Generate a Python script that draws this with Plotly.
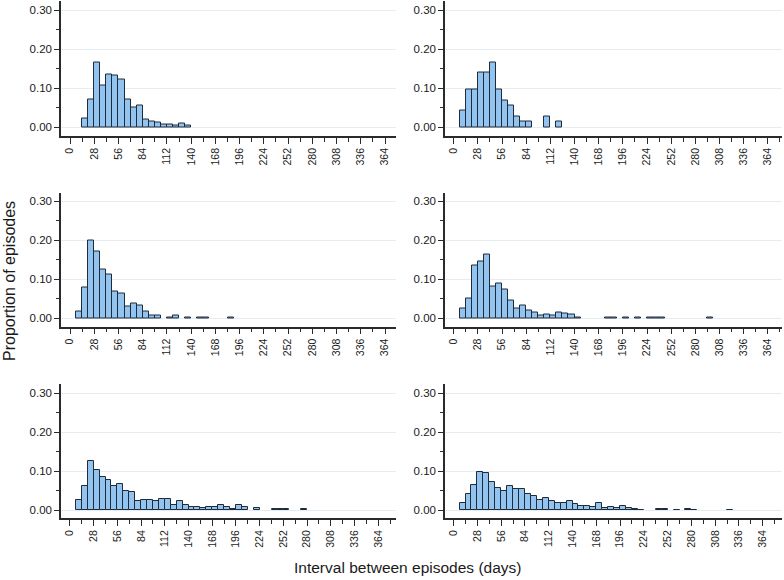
import plotly.graph_objects as go

# ---------------- data (proportion of episodes per 7-day bin; bin = left edge in days) ----------------
p1_bins = [14, 21, 28, 35, 42, 49, 56, 63, 70, 77, 84, 91, 98, 105, 112, 119, 126, 133]
p1_vals = [0.022, 0.071, 0.167, 0.107, 0.134, 0.132, 0.121, 0.071, 0.050, 0.056,
           0.020, 0.014, 0.011, 0.006, 0.006, 0.003, 0.008, 0.003]

p2_bins = [7, 14, 21, 28, 35, 42, 49, 56, 63, 70, 77, 84, 105, 119]
p2_vals = [0.042, 0.097, 0.097, 0.139, 0.139, 0.167, 0.097, 0.069, 0.056, 0.028,
           0.014, 0.014, 0.028, 0.014]

p3_bins = [7, 14, 21, 28, 35, 42, 49, 56, 63, 70, 77, 84, 91, 98, 112, 119, 133, 147, 154, 182]
p3_vals = [0.017, 0.079, 0.200, 0.171, 0.125, 0.113, 0.068, 0.063, 0.030, 0.038,
           0.033, 0.017, 0.008, 0.008, 0.003, 0.008, 0.003, 0.003, 0.003, 0.003]

p4_bins = [7, 14, 21, 28, 35, 42, 49, 56, 63, 70, 77, 84, 91, 98, 105, 112, 119, 126, 133, 140,
           175, 182, 196, 210, 224, 231, 238, 294]
p4_vals = [0.026, 0.050, 0.136, 0.147, 0.164, 0.082, 0.089, 0.073, 0.046, 0.026,
           0.033, 0.020, 0.014, 0.008, 0.010, 0.007, 0.016, 0.013, 0.010, 0.003,
           0.002, 0.002, 0.002, 0.002, 0.002, 0.002, 0.002, 0.002]

p5_bins = [7, 14, 21, 28, 35, 42, 49, 56, 63, 70, 77, 84, 91, 98, 105, 112, 119, 126, 133, 140,
           147, 154, 161, 168, 175, 182, 189, 196, 203, 217, 238, 245, 252, 273]
p5_vals = [0.026, 0.061, 0.127, 0.102, 0.086, 0.078, 0.061, 0.068, 0.049, 0.046,
           0.022, 0.026, 0.026, 0.022, 0.028, 0.028, 0.012, 0.022, 0.014, 0.007,
           0.009, 0.004, 0.007, 0.007, 0.012, 0.007, 0.003, 0.012, 0.007,
           0.004, 0.002, 0.002, 0.002, 0.002]

p6_bins = [7, 14, 21, 28, 35, 42, 49, 56, 63, 70, 77, 84, 91, 98, 105, 112, 119, 126, 133, 140,
           147, 154, 161, 168, 175, 182, 189, 196, 203, 210, 217, 238, 245, 259, 273, 280, 322]
p6_vals = [0.018, 0.042, 0.065, 0.097, 0.095, 0.072, 0.057, 0.050, 0.061, 0.054,
           0.053, 0.040, 0.037, 0.026, 0.031, 0.022, 0.019, 0.019, 0.022, 0.016,
           0.010, 0.010, 0.009, 0.017, 0.006, 0.008, 0.004, 0.011, 0.006, 0.002, 0.001,
           0.002, 0.002, 0.001, 0.002, 0.001, 0.001]

x_tick_vals = [0, 28, 56, 84, 112, 140, 168, 196, 224, 252, 280, 308, 336, 364]
y_tick_vals = [0.0, 0.1, 0.2, 0.3]
x_title = "Interval between episodes (days)"
y_title = "Proportion of episodes"
BIN_WIDTH = 7

panels = [(p1_bins, p1_vals), (p2_bins, p2_vals), (p3_bins, p3_vals),
          (p4_bins, p4_vals), (p5_bins, p5_vals), (p6_bins, p6_vals)]

# ---------------- layout geometry ----------------
W, H = 784, 580
col_px = [(61, 396), (445, 782)]
row_px = [(0.5, 136.0), (192.5, 326.7), (384.0, 518.3)]
x_ranges = [[-10.4, 376.7], [-10.1, 380.4],
            [-10.4, 376.7], [-10.1, 380.4],
            [-10.6, 385.0], [-10.2, 386.7]]
y_ranges = [[-0.023, 0.325], [-0.023, 0.325],
            [-0.0216, 0.323], [-0.0216, 0.323],
            [-0.0213, 0.3236], [-0.0213, 0.3236]]

BAR_FILL = "#92C4EF"
BAR_LINE = "#1E2B3A"
AXIS_COL = "#2b2b2b"
GRID_COL = "#E6EDF2"
TXT_COL = "#1a1a1a"
FONT = "Liberation Sans, Arial, sans-serif"

fig = go.Figure()
layout = dict(
    width=W, height=H,
    margin=dict(l=0, r=0, t=0, b=0),
    paper_bgcolor="white", plot_bgcolor="white",
    showlegend=False, bargap=0,
    font=dict(family=FONT, color=TXT_COL),
)

for i, (bins, vals) in enumerate(panels):
    r, c = divmod(i, 2)
    n = "" if i == 0 else str(i + 1)
    fig.add_trace(go.Bar(
        x=bins, y=vals, width=BIN_WIDTH, offset=0,
        marker=dict(color=BAR_FILL, line=dict(color=BAR_LINE, width=1)),
        xaxis="x" + n, yaxis="y" + n, hoverinfo="x+y",
    ))
    x0, x1 = col_px[c]
    y0, y1 = row_px[r]
    layout["xaxis" + n] = dict(
        domain=[x0 / W, x1 / W], anchor="y" + n, range=x_ranges[i],
        tickmode="array", tickvals=x_tick_vals, tickangle=-90,
        ticks="outside", ticklen=6, tickwidth=1.2, tickcolor=AXIS_COL,
        minor=dict(tickmode="linear", tick0=0, dtick=14, ticks="outside",
                   ticklen=4, tickwidth=1.2, tickcolor=AXIS_COL, showgrid=False),
        showline=True, linecolor=AXIS_COL, linewidth=1.5,
        showgrid=False, zeroline=False,
        tickfont=dict(size=10.5, family=FONT, color=TXT_COL),
        automargin=False, fixedrange=True,
    )
    layout["yaxis" + n] = dict(
        domain=[1 - y1 / H, 1 - y0 / H], anchor="x" + n, range=y_ranges[i],
        tickmode="array", tickvals=y_tick_vals, tickformat=".2f",
        ticks="outside", ticklen=5, tickwidth=1.2, tickcolor=AXIS_COL,
        minor=dict(tickmode="linear", tick0=0, dtick=0.05, ticks="outside",
                   ticklen=3, tickwidth=1.2, tickcolor=AXIS_COL, showgrid=False),
        showline=True, linecolor=AXIS_COL, linewidth=1.5,
        showgrid=True, gridcolor=GRID_COL, gridwidth=1, zeroline=False,
        tickfont=dict(size=11.5, family=FONT, color=TXT_COL),
        automargin=False, fixedrange=True,
    )

layout["annotations"] = [
    dict(text=x_title, x=407 / W, y=1 - 567 / H, xref="paper", yref="paper",
         xanchor="center", yanchor="middle", showarrow=False,
         font=dict(size=15.5, family=FONT, color=TXT_COL)),
    dict(text=y_title, x=9 / W, y=1 - 281 / H, xref="paper", yref="paper",
         xanchor="center", yanchor="middle", showarrow=False, textangle=-90,
         font=dict(size=16, family=FONT, color=TXT_COL)),
]

fig.update_layout(**layout)
fig.write_html(
    "out.html",
    config={"displayModeBar": False},
    post_script="document.body.style.margin='0';document.body.style.overflow='hidden';",
)
